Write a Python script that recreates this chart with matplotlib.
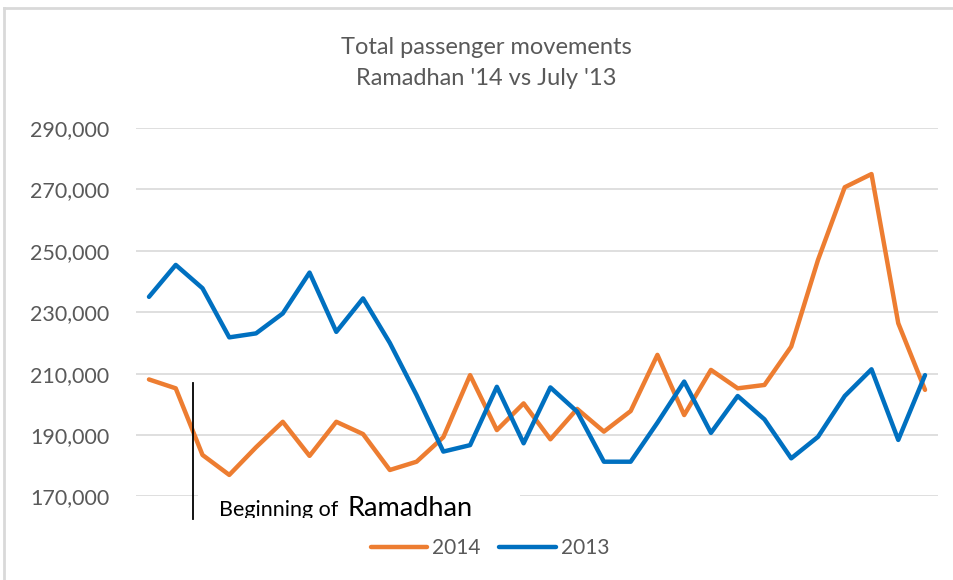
import matplotlib
matplotlib.use("Agg")
import matplotlib.pyplot as plt
from matplotlib.transforms import Bbox, TransformedBbox
from matplotlib.lines import Line2D

# daily passenger movements, 30 days
days = list(range(1, 31))
pax_2014 = [208100, 205200, 183500, 177000, 186000, 194300, 183200, 194300, 190300, 178600,
            181300, 189300, 209500, 191600, 200300, 188600, 198500, 191100, 197800, 216100,
            196500, 211200, 205200, 206300, 218800, 247000, 270700, 275000, 226400, 204700]
pax_2013 = [235000, 245400, 237800, 221800, 223100, 229600, 242900, 223600, 234500, 220000,
            203000, 184600, 186700, 205700, 187300, 205500, 197600, 181300, 181300, 194000,
            207400, 190700, 202700, 195100, 182400, 189400, 202700, 211400, 188400, 209500]
y_ticks = [170000, 190000, 210000, 230000, 250000, 270000, 290000]

title = "Total passenger movements\nRamadhan '14 vs July '13"
note_small = "Beginning of"
note_big = "Ramadhan"
ramadhan_start = 2.66   # between day 2 and day 3

FONT = "Lato"
GREY = "#595959"
ORANGE = "#ED7D31"
BLUE = "#0070C0"

W, H = 954, 580
fig = plt.figure(figsize=(W / 100, H / 100), dpi=100)
ax = fig.add_axes([135.6 / W, 1 - 496.4 / H, (938.4 - 135.6) / W, (496.4 - 128) / H])

ax.plot(days, pax_2014, color=ORANGE, lw=3.2, solid_joinstyle="round", solid_capstyle="round", label="2014", zorder=3)
ax.plot(days, pax_2013, color=BLUE, lw=3.2, solid_joinstyle="round", solid_capstyle="round", label="2013", zorder=4)

ax.set_xlim(0.5, 30.5)
ax.set_ylim(170000, 290000)
ax.set_yticks(y_ticks)
ax.set_yticklabels([f"{v:,}" for v in y_ticks], fontfamily=FONT, fontsize=15.5, color=GREY)
ax.set_xticks([])
ax.tick_params(axis="y", length=0, pad=19)
ax.grid(axis="y", color="#d9d9d9", lw=1.2)
ax.set_axisbelow(True)
for s in ax.spines.values():
    s.set_visible(False)

fig.text(486 / W, 1 - 63 / H, title, ha="center", va="center", fontfamily=FONT,
         fontsize=17, color=GREY, linespacing=1.6)

# annotation: vertical marker and partially hidden text box
ax.plot([ramadhan_start, ramadhan_start], [206800, 162600], color="black", lw=1.3,
        clip_on=False, zorder=6)
box = plt.Rectangle((198 / W, 1 - 518 / H), (520 - 198) / W, (518 - 486) / H,
                    transform=fig.transFigure, facecolor="white", edgecolor="none", zorder=5)
fig.add_artist(box)
clip = TransformedBbox(Bbox([[198 / W, 1 - 518 / H], [520 / W, 1 - 486 / H]]), fig.transFigure)
t1 = fig.text(219 / W, 1 - 516 / H, note_small, fontfamily=FONT, fontsize=15.5, color="black",
              va="baseline", zorder=6)
t2 = fig.text(348 / W, 1 - 516 / H, note_big, fontfamily=FONT, fontsize=19.5, color="black",
              va="baseline", zorder=6)
for t in (t1, t2):
    t.set_clip_box(clip)
    t.set_clip_on(True)

# outer border (top and left only)
fig.add_artist(Line2D([4 / W, 1], [1 - 8 / H, 1 - 8 / H], transform=fig.transFigure, color="#d9d9d9", lw=2))
fig.add_artist(Line2D([4 / W, 4 / W], [0, 1 - 8 / H], transform=fig.transFigure, color="#d9d9d9", lw=2))

leg = fig.legend(loc="center", bbox_to_anchor=(490 / W, 1 - 548 / H), ncol=2, frameon=False,
                 prop={"family": FONT, "size": 15}, handlelength=2.7, handletextpad=0.25,
                 columnspacing=0.9)
for txt in leg.get_texts():
    txt.set_color(GREY)

fig.savefig("out.png", dpi=100)
